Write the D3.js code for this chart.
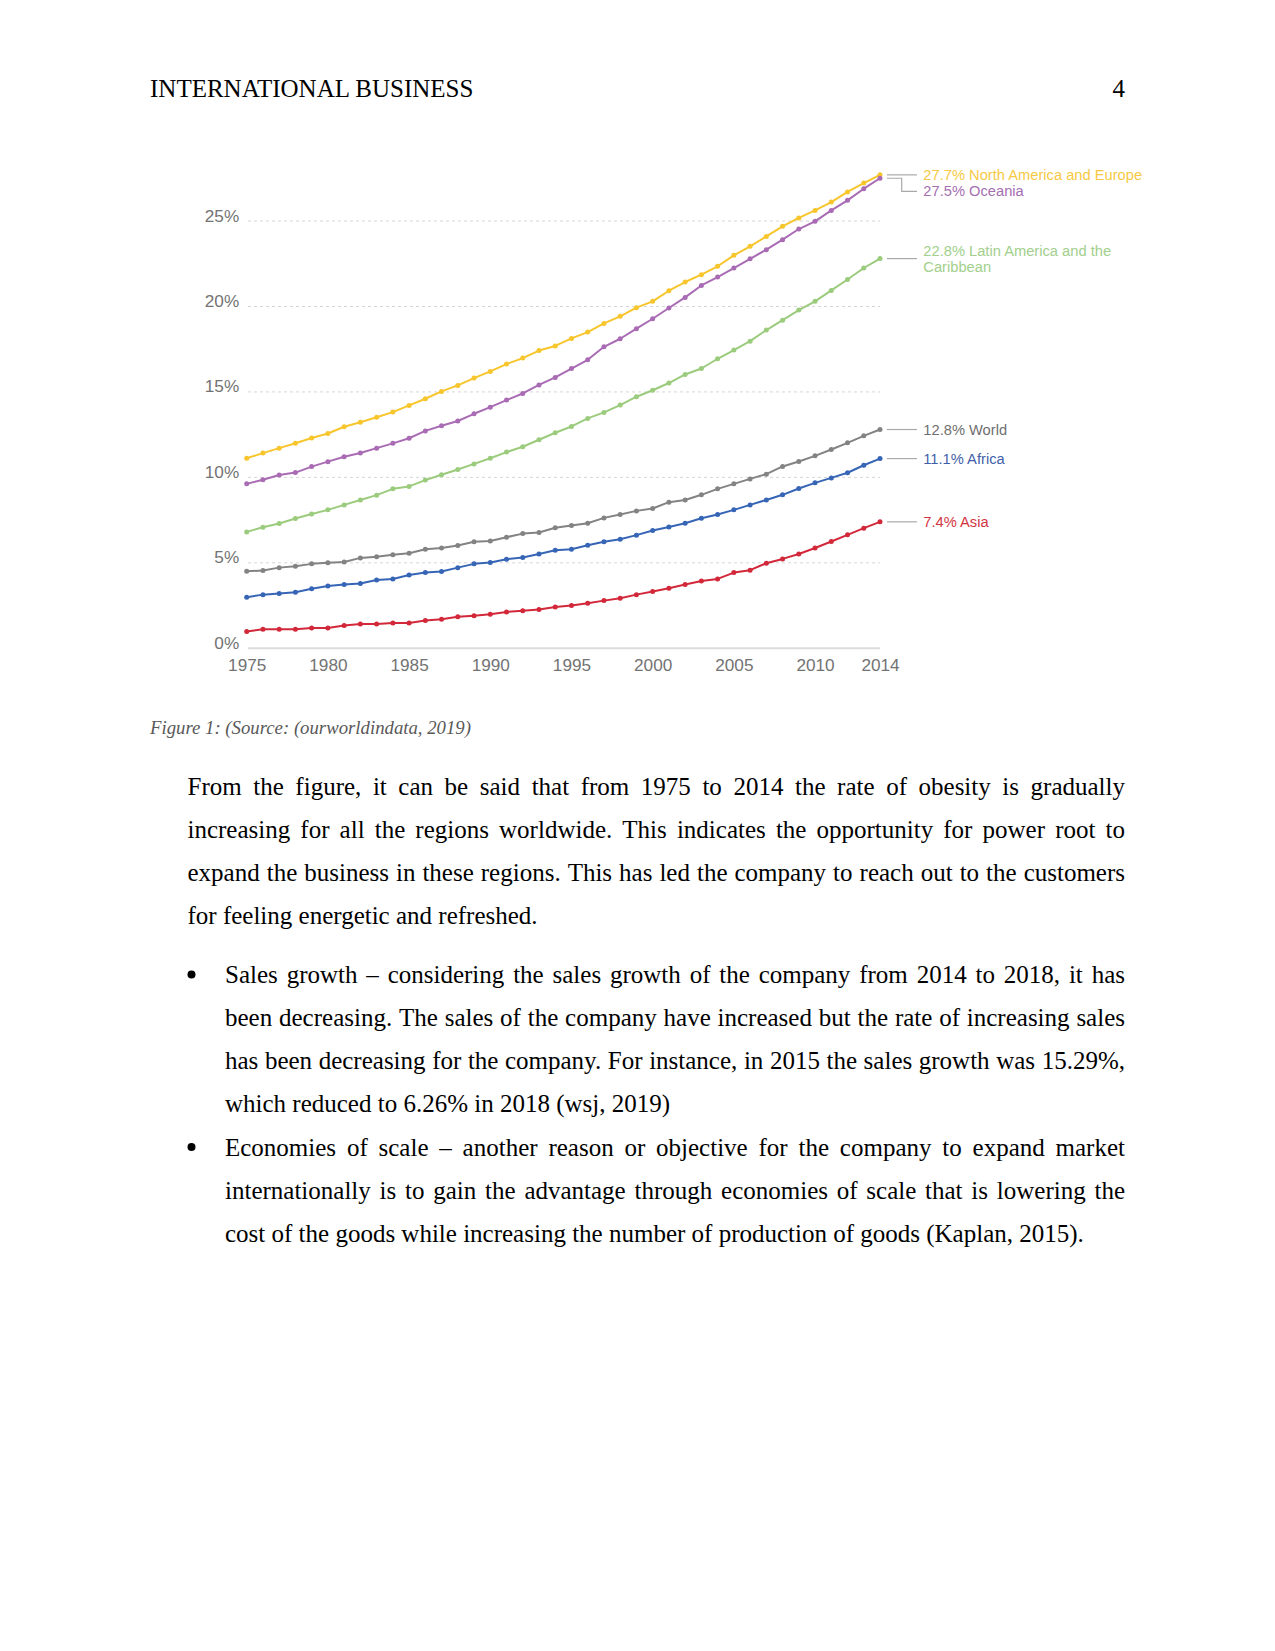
<!DOCTYPE html>
<html>
<head>
<meta charset="utf-8">
<script src="https://cdn.jsdelivr.net/npm/d3@7/dist/d3.min.js"></script>
<style>
  html, body { margin: 0; padding: 0; background: #fff; }
  svg { display: block; }
</style>
</head>
<body>
<svg id="page" width="1275" height="1651"></svg>
<script>
// ---------------- DATA ----------------
const years = [1975,1976,1977,1978,1979,1980,1981,1982,1983,1984,1985,1986,1987,1988,1989,1990,1991,1992,1993,1994,
               1995,1996,1997,1998,1999,2000,2001,2002,2003,2004,2005,2006,2007,2008,2009,2010,2011,2012,2013,2014];

const northAmericaEurope = [11.12,11.42,11.71,12.00,12.30,12.57,12.96,13.23,13.52,13.82,14.21,14.60,15.03,15.38,15.81,16.20,16.63,16.98,17.42,17.69,
                            18.13,18.50,19.01,19.42,19.93,20.30,20.92,21.43,21.86,22.35,22.99,23.52,24.10,24.69,25.18,25.62,26.11,26.70,27.22,27.70];
const oceania = [9.62,9.86,10.14,10.28,10.63,10.92,11.21,11.43,11.71,11.99,12.29,12.72,13.02,13.30,13.72,14.11,14.52,14.91,15.41,15.85,
                 16.37,16.88,17.64,18.11,18.70,19.28,19.91,20.53,21.23,21.72,22.25,22.79,23.32,23.91,24.53,24.98,25.62,26.21,26.89,27.50];
const latinAmerica = [6.81,7.08,7.30,7.59,7.86,8.10,8.39,8.68,8.96,9.33,9.47,9.84,10.15,10.46,10.79,11.12,11.48,11.79,12.20,12.61,
                      12.98,13.45,13.80,14.23,14.72,15.10,15.52,16.02,16.37,16.94,17.45,17.97,18.62,19.20,19.79,20.30,20.94,21.58,22.25,22.80];
const world = [4.51,4.55,4.72,4.80,4.94,5.00,5.05,5.29,5.35,5.48,5.56,5.80,5.87,6.01,6.23,6.28,6.50,6.71,6.78,7.05,
               7.18,7.32,7.63,7.83,8.04,8.18,8.55,8.68,8.98,9.33,9.62,9.91,10.19,10.64,10.93,11.26,11.63,12.02,12.43,12.80];
const africa = [2.99,3.14,3.20,3.28,3.49,3.65,3.73,3.79,4.00,4.06,4.29,4.43,4.49,4.72,4.94,5.02,5.21,5.31,5.52,5.74,
                5.80,6.03,6.23,6.38,6.62,6.89,7.10,7.32,7.61,7.83,8.10,8.39,8.68,8.98,9.35,9.68,9.97,10.27,10.71,11.10];
const asia = [0.98,1.11,1.11,1.11,1.19,1.19,1.33,1.42,1.42,1.48,1.48,1.62,1.70,1.85,1.91,1.99,2.13,2.19,2.27,2.42,
              2.50,2.63,2.79,2.93,3.14,3.32,3.51,3.73,3.94,4.06,4.43,4.57,4.98,5.23,5.52,5.87,6.25,6.64,7.03,7.40];

const seriesNames = ["North America and Europe","Oceania","Latin America and the Caribbean","World","Africa","Asia"];
const seriesValues = [northAmericaEurope, oceania, latinAmerica, world, africa, asia];
const lineColors  = ["#f7c52c","#a96bb4","#9bcb7c","#838383","#3765b6","#d2283a"];
const labelColors = ["#f6c944","#a66fb1","#a2cf8c","#6f6f6f","#3f5fa9","#d3343f"];
const labelLines = [["27.7% North America and Europe"],["27.5% Oceania"],["22.8% Latin America and the","Caribbean"],
                    ["12.8% World"],["11.1% Africa"],["7.4% Asia"]];

const yTicks = [0,5,10,15,20,25];
const xTicks = [1975,1980,1985,1990,1995,2000,2005,2010,2014];

const headerLeft = "INTERNATIONAL BUSINESS";
const headerRight = "4";
const caption = "Figure 1: (Source: (ourworldindata, 2019)";
const paragraph1 = [
  "From the figure, it can be said that from 1975 to 2014 the rate of obesity is gradually",
  "increasing for all the regions worldwide. This indicates the opportunity for power root to",
  "expand the business in these regions. This has led the company to reach out to the customers",
  "for feeling energetic and refreshed."
];
const bullet1 = [
  "Sales growth \u2013 considering the sales growth of the company from 2014 to 2018, it has",
  "been decreasing. The sales of the company have increased but the rate of increasing sales",
  "has been decreasing for the company. For instance, in 2015 the sales growth was 15.29%,",
  "which reduced to 6.26% in 2018 (wsj, 2019)"
];
const bullet2 = [
  "Economies of scale \u2013 another reason or objective for the company to expand market",
  "internationally is to gain the advantage through economies of scale that is lowering the",
  "cost of the goods while increasing the number of production of goods (Kaplan, 2015)."
];

// ---------------- PAGE ----------------
const svg = d3.select("#page");
const serif = "'Liberation Serif','Times New Roman',serif";
const sans = "'Liberation Sans',Arial,sans-serif";

svg.append("text").attr("x",150).attr("y",97).attr("font-family",serif).attr("font-size",25)
   .attr("fill","#000").text(headerLeft);
svg.append("text").attr("x",1125).attr("y",97).attr("text-anchor","end").attr("font-family",serif)
   .attr("font-size",25).attr("fill","#000").text(headerRight);

// ---------------- CHART ----------------
const x = d3.scaleLinear().domain([1975, 2014]).range([246.7, 880]);
const y = d3.scaleLinear().domain([0, 25]).range([648.3, 221]);

const chart = svg.append("g");

// gridlines
chart.append("g").selectAll("line").data(yTicks.filter(d => d > 0)).join("line")
  .attr("x1", 248).attr("x2", 880)
  .attr("y1", d => y(d)).attr("y2", d => y(d))
  .attr("stroke", "#d6d6d6").attr("stroke-width", 1).attr("stroke-dasharray", "3,3");
chart.append("line").attr("x1",248).attr("x2",880).attr("y1",y(0)).attr("y2",y(0))
  .attr("stroke","#dcdcdc").attr("stroke-width",2);

// y axis
const yAxis = chart.append("g").attr("transform", `translate(${x(1975)},0)`)
  .call(d3.axisLeft(y).tickValues(yTicks).tickFormat(d => d + "%").tickSize(0));
yAxis.select(".domain").remove();
yAxis.selectAll("text").attr("x", -7.5).attr("dy", "0").attr("fill", "#737373")
  .attr("font-family", sans).attr("font-size", 17.2);

// x axis
const xAxis = chart.append("g").attr("transform", `translate(0,${y(0)})`)
  .call(d3.axisBottom(x).tickValues(xTicks).tickFormat(d3.format("d")).tickSize(0));
xAxis.select(".domain").remove();
xAxis.selectAll("text").attr("y", 23.2).attr("dy", "0").attr("fill", "#737373")
  .attr("font-family", sans).attr("font-size", 17.2);

// lines + dots
const lineGen = d3.line().x((d, i) => x(years[i])).y(d => y(d));
seriesValues.forEach((vals, k) => {
  const g = chart.append("g");
  g.append("path").datum(vals).attr("d", lineGen).attr("fill", "none")
    .attr("stroke", lineColors[k]).attr("stroke-width", 2).attr("stroke-linejoin","round");
  g.selectAll("circle").data(vals).join("circle")
    .attr("cx", (d, i) => x(years[i])).attr("cy", d => y(d)).attr("r", 2.5)
    .attr("fill", lineColors[k]);
});

// end labels with connectors
const connStart = 887, connEnd = 917, labelX = 923.3;
seriesValues.forEach((vals, k) => {
  const endY = y(vals[vals.length - 1]);
  const g = chart.append("g");
  let textY = endY;
  if (k === 1) {
    // Oceania: elbow connector below the North America label
    const lblY = endY + 13.2;
    g.append("path").attr("d", `M${connStart},${endY}H${connStart + 14.7}V${lblY}H${connEnd}`)
      .attr("fill", "none").attr("stroke", "#a9a9a9").attr("stroke-width", 1.2);
    textY = lblY;
  } else {
    g.append("line").attr("x1", connStart).attr("x2", connEnd).attr("y1", endY).attr("y2", endY)
      .attr("stroke", "#a9a9a9").attr("stroke-width", 1.2);
  }
  const lines = labelLines[k];
  const lh = 16;
  const firstBaseline = textY + 5 - (lines.length - 1) * lh / 2;
  const t = g.append("text").attr("font-family", sans).attr("font-size", 14.7).attr("fill", labelColors[k]);
  lines.forEach((s, j) => {
    t.append("tspan").attr("x", labelX).attr("y", firstBaseline + j * lh).text(s);
  });
});

// ---------------- CAPTION ----------------
svg.append("text").attr("x", 150).attr("y", 734).attr("font-family", serif).attr("font-style","italic")
  .attr("font-size", 18.75).attr("fill", "#595959").text(caption);

// ---------------- BODY TEXT (justified) ----------------
function drawLine(str, x0, x1, baseline, justify) {
  const t = svg.append("text").attr("font-family", serif).attr("font-size", 25).attr("fill", "#000")
    .attr("y", baseline);
  if (!justify) { t.attr("x", x0).text(str); return; }
  const words = str.split(" ");
  const widths = words.map(w => {
    const m = svg.append("text").attr("font-family", serif).attr("font-size", 25).text(w);
    const wd = m.node().getComputedTextLength(); m.remove(); return wd;
  });
  const total = d3.sum(widths);
  const gap = (x1 - x0 - total) / (words.length - 1);
  let cx = x0;
  words.forEach((w, i) => {
    t.append("tspan").attr("x", cx).text(w);
    cx += widths[i] + gap;
  });
}

const lh = 43.15;
let base = 794.5;
paragraph1.forEach((s, i) => drawLine(s, 187.5, 1125, base + i * lh, i < paragraph1.length - 1));

let bBase = 983;
function drawBullet(lines, startBaseline) {
  svg.append("circle").attr("cx", 191.5).attr("cy", startBaseline - 8.5).attr("r", 4).attr("fill", "#000");
  lines.forEach((s, i) => drawLine(s, 225, 1125, startBaseline + i * lh, i < lines.length - 1));
}
drawBullet(bullet1, bBase);
drawBullet(bullet2, bBase + 4 * lh);
</script>
</body>
</html>
